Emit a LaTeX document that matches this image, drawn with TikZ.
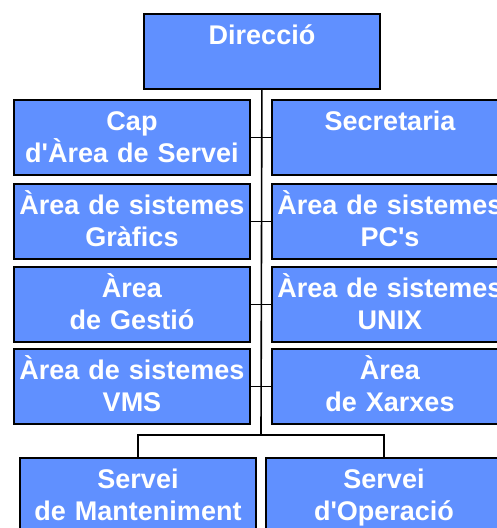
\documentclass[tikz,border=0pt]{standalone}
\usepackage{fontspec}
\setmainfont{Liberation Sans}
\usepackage{tikz}
\usepackage[dvipsnames]{xcolor}
\definecolor{orgblue}{RGB}{96,144,255}

\begin{document}
\begin{tikzpicture}[x=1pt,y=-1pt]
        \useasboundingbox (0,0) rectangle (497,528);
        \begin{scope}[
            every node/.style={shape=rectangle,draw=black,line width=2pt,fill=orgblue,
                text=white,font=\bfseries\fontsize{27}{32}\selectfont,
                inner sep=0pt,text width=236pt,align=center,
                text height=30pt,text depth=45pt,anchor=north west}
        ]
            \node (dir) at (143, 13) {Direcció};

            \node (cap) at (13, 99) {Cap\\d\textquotesingle Àrea de Servei};
            \node (sec) at (271, 99) {Secretaria};

            \node (grf) at (13, 183) {Àrea de sistemes\\Gràfics};
            \node (pcs) at (271, 183) {Àrea de sistemes\\PC\textquotesingle s};

            \node (ges) at (13, 266) {Àrea\\de Gestió};
            \node (unx) at (271, 266) {Àrea de sistemes\\UNIX};

            \node (vms) at (13, 348) {Àrea de sistemes\\VMS};
            \node (xar) at (271, 348) {Àrea\\de Xarxes};

            \node (man) at (19, 457) {Servei\\de Manteniment};
            \node (ope) at (265, 457) {Servei\\d\textquotesingle Operació};
        \end{scope}
        \coordinate (bus) at (261, 435);
        \begin{scope}[
            every edge/.style={draw=black,line width=1.6pt}
        ]
            \path [-] (dir) edge (bus);

            \path [-] (cap) edge (sec);
            \path [-] (grf) edge (pcs);
            \path [-] (ges) edge (unx);
            \path [-] (vms) edge (xar);

            \draw [line width=1.6pt] (bus) -| (man);
            \draw [line width=1.6pt] (bus) -| (ope);
        \end{scope}
    \end{tikzpicture}
\end{document}
